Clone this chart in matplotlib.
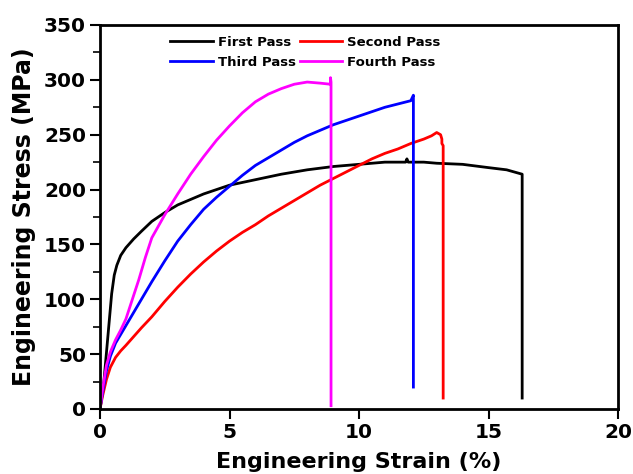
import matplotlib
matplotlib.use("Agg")
import matplotlib.pyplot as plt
from matplotlib.ticker import MultipleLocator

plt.rcParams['font.family'] = ['DejaVu Sans']
plt.rcParams['font.weight'] = 'bold'

# First Pass
x1 = [0, 0.15, 0.3, 0.45, 0.55, 0.65, 0.8, 1.0, 1.3, 1.6, 2.0, 2.5, 3.0, 3.5, 4.0, 5.0, 6.0, 7.0, 8.0, 9.0,
      10.0, 11.0, 11.8, 11.85, 11.9, 12.5, 13.0, 14.0, 15.0, 15.7, 16.3, 16.3]
y1 = [0, 25, 65, 105, 122, 131, 140, 147, 155, 162, 171, 179, 186, 191, 196, 204, 209, 214, 218, 221,
      223, 225, 225, 228, 225, 225, 224, 223, 220, 218, 214, 10]

# Second Pass
x2 = [0, 0.1, 0.25, 0.4, 0.6, 0.8, 1.0, 1.3, 1.6, 2.0, 2.5, 3.0, 3.5, 4.0, 4.5, 5.0, 5.5, 6.0, 6.5, 7.0,
      7.5, 8.0, 8.5, 9.0, 9.5, 10.0, 10.5, 11.0, 11.5, 12.0, 12.5, 12.8, 13.0, 13.15, 13.2, 13.2, 13.25, 13.25]
y2 = [0, 12, 27, 38, 47, 53, 58, 66, 74, 84, 98, 111, 123, 134, 144, 153, 161, 168, 176, 183,
      190, 197, 204, 210, 216, 222, 228, 233, 237, 242, 246, 249, 252, 250, 246, 242, 240, 10]

# Third Pass
x3 = [0, 0.1, 0.25, 0.4, 0.6, 0.8, 1.0, 1.3, 1.6, 2.0, 2.5, 3.0, 3.5, 4.0, 4.5, 5.0, 5.5, 6.0, 6.5, 7.0,
      7.5, 8.0, 8.5, 9.0, 9.5, 10.0, 10.5, 11.0, 11.5, 12.0, 12.1, 12.1]
y3 = [0, 15, 35, 48, 60, 68, 76, 88, 100, 116, 135, 153, 168, 182, 193, 203, 213, 222, 229, 236,
      243, 249, 254, 259, 263, 267, 271, 275, 278, 281, 286, 20]

# Fourth Pass
x4 = [0, 0.1, 0.25, 0.4, 0.6, 0.8, 1.0, 1.25, 1.5, 1.75, 2.0, 2.5, 3.0, 3.5, 4.0, 4.5, 5.0, 5.5, 6.0, 6.5,
      7.0, 7.5, 8.0, 8.5, 8.9, 8.9, 8.92, 8.92]
y4 = [0, 18, 40, 52, 63, 72, 82, 100, 118, 138, 156, 177, 196, 214, 230, 245, 258, 270, 280, 287,
      292, 296, 298, 297, 296, 302, 298, 3]

series = [
    (x1, y1, 'First Pass', '#000000'),
    (x2, y2, 'Second Pass', '#ff0000'),
    (x3, y3, 'Third Pass', '#0000ff'),
    (x4, y4, 'Fourth Pass', '#ff00ff'),
]

fig = plt.figure(figsize=(6.33, 4.74), dpi=100)
ax = fig.add_axes([100/633, 1-409/474, 518/633, 384/474])

handles = {}
for x, y, lab, c in series:
    h, = ax.plot(x, y, color=c, lw=2, label=lab)
    handles[lab] = h

ax.set_xlim(0, 20)
ax.set_ylim(0, 350)
ax.xaxis.set_major_locator(MultipleLocator(5))
ax.yaxis.set_major_locator(MultipleLocator(50))
ax.yaxis.set_minor_locator(MultipleLocator(25))
ax.tick_params(axis='both', which='major', direction='out', length=7, width=1.5, labelsize=14.5, pad=3)
ax.tick_params(axis='y', which='minor', direction='out', length=5, width=1.2)
for lbl in ax.get_xticklabels() + ax.get_yticklabels():
    lbl.set_fontweight('bold')
for s in ax.spines.values():
    s.set_linewidth(2)

ax.set_xlabel('Engineering Strain (%)', fontsize=16, fontweight='bold', labelpad=7)
ax.set_ylabel('Engineering Stress (MPa)', fontsize=17, fontweight='bold', labelpad=6)

order = ['First Pass', 'Third Pass', 'Second Pass', 'Fourth Pass']
ax.legend([handles[k] for k in order], order, loc='upper left', bbox_to_anchor=(0.113, 1.003),
          ncol=2, frameon=False, prop={'weight': 'bold', 'size': 9.5}, handlelength=3.2,
          handletextpad=0.4, columnspacing=0.3, labelspacing=0.55)

fig.savefig('out.png', dpi=100)
